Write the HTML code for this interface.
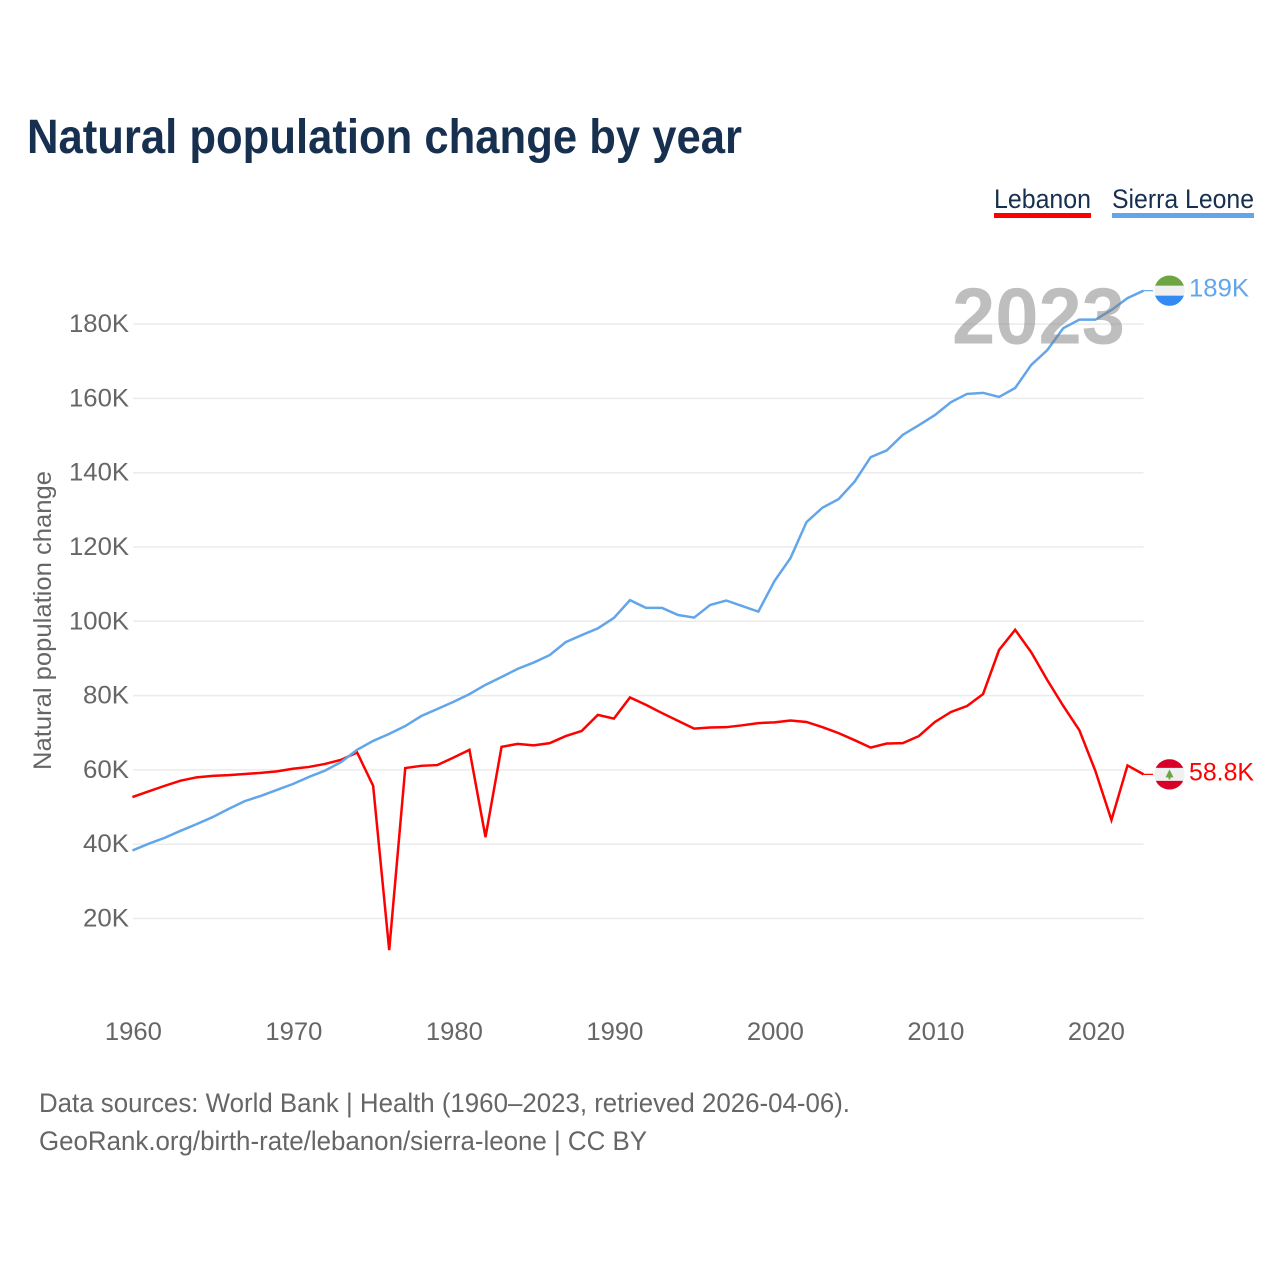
<!DOCTYPE html>
<html lang="en">
<head>
<meta charset="utf-8">
<title>Natural population change by year</title>
<style>
  html, body { margin: 0; padding: 0; background: #fff; }
  svg { display: block; font-family: "Liberation Sans", sans-serif; }
</style>
</head>
<body>
<svg id="chart" xmlns="http://www.w3.org/2000/svg" width="1280" height="1280" viewBox="0 0 1280 1280">
  <rect x="0" y="0" width="1280" height="1280" fill="#ffffff"/>
  <text x="27" y="153" font-size="48" font-weight="700" fill="#17304f" textLength="715" lengthAdjust="spacingAndGlyphs">Natural population change by year</text>

  <g>
    <text x="994" y="208" font-size="27" fill="#17304f" textLength="97" lengthAdjust="spacingAndGlyphs">Lebanon</text>
    <rect x="994" y="213" width="97" height="5" fill="#ff0000"/>
  </g>
  <g>
    <text x="1112" y="208" font-size="27" fill="#17304f" textLength="142" lengthAdjust="spacingAndGlyphs">Sierra Leone</text>
    <rect x="1112" y="213" width="142" height="5" fill="#62a6e9"/>
  </g>

  <text transform="translate(51,620.5) rotate(-90)" text-anchor="middle" font-size="25" fill="#666666" textLength="299" lengthAdjust="spacingAndGlyphs">Natural population change</text>

  <g id="grid"></g>
  <g id="y-ticks"></g>
  <g id="x-ticks"></g>
  <g id="series"></g>

  <text x="952" y="343.5" font-size="80" font-weight="700" fill="#7d7d7d" fill-opacity="0.5" textLength="173" lengthAdjust="spacingAndGlyphs">2023</text>

  <g id="end-markers"></g>

  <text x="39" y="1112" font-size="27" fill="#666666" textLength="811" lengthAdjust="spacingAndGlyphs">Data sources: World Bank | Health (1960–2023, retrieved 2026-04-06).</text>
  <text x="39" y="1150" font-size="27" fill="#666666" textLength="608" lengthAdjust="spacingAndGlyphs">GeoRank.org/birth-rate/lebanon/sierra-leone | CC BY</text>
</svg>

<script>
const firstYear = 1960;
const lebanonValues = [52.7,54.2,55.7,57.1,58.0,58.4,58.6,58.9,59.2,59.6,60.3,60.8,61.6,62.7,64.7,55.7,11.5,60.5,61.1,61.3,63.3,65.4,41.9,66.2,67.0,66.6,67.2,69.1,70.5,74.8,73.8,79.5,77.5,75.3,73.2,71.1,71.4,71.5,72.0,72.6,72.8,73.3,72.9,71.5,69.9,68.0,66.0,67.1,67.2,69.1,72.9,75.6,77.2,80.4,92.3,97.7,91.7,84.2,77.2,70.7,59.7,46.5,61.2,58.8];
const sierraLeoneValues = [38.3,40.1,41.7,43.6,45.4,47.3,49.5,51.6,53.0,54.6,56.2,58.1,59.8,62.1,65.4,67.8,69.7,71.8,74.5,76.4,78.3,80.4,82.9,85.0,87.2,88.9,90.9,94.4,96.3,98.1,100.9,105.7,103.6,103.6,101.7,101.0,104.4,105.6,104.1,102.6,110.8,117.0,126.7,130.6,132.9,137.6,144.2,146.0,150.2,152.8,155.5,159.0,161.2,161.5,160.4,162.8,169.0,173.0,178.9,181.2,181.2,183.8,187.0,189.0];
const yTickValues = [20,40,60,80,100,120,140,160,180];
const yTickLabels = ["20K","40K","60K","80K","100K","120K","140K","160K","180K"];
const xTickYears = [1960,1970,1980,1990,2000,2010,2020];
const lebanonEndLabel = "58.8K";
const sierraLeoneEndLabel = "189K";

const SVG_NS = "http://www.w3.org/2000/svg";
const xScale = function (year) { return 132.4 + (year - 1960) * 16.05; };
const yScale = function (value) { return 992.8 - value * 3.715; };
const xEnd = xScale(2023);

function make(tag, parent, attrs) {
  const el = document.createElementNS(SVG_NS, tag);
  for (const key in attrs) { el.setAttribute(key, attrs[key]); }
  parent.appendChild(el);
  return el;
}

const grid = document.getElementById("grid");
const yTicks = document.getElementById("y-ticks");
yTickValues.forEach(function (v, i) {
  const line = make("line", grid, { x1: 133, x2: xEnd, y1: yScale(v), y2: yScale(v), stroke: "#ebebeb", "stroke-width": 1.5 });
  
  
  const label = make("text", yTicks, { x: 129, y: yScale(v) + 8, "text-anchor": "end", "font-size": 25, fill: "#666666", textLength: 14 * yTickLabels[i].length + 4, lengthAdjust: "spacingAndGlyphs" });
  label.textContent = yTickLabels[i];
  
  
});

const xTicks = document.getElementById("x-ticks");
xTickYears.forEach(function (year) {
  const label = make("text", xTicks, { x: xScale(year) + 1, y: 1040, "text-anchor": "middle", "font-size": 25, fill: "#666666", textLength: 57, lengthAdjust: "spacingAndGlyphs" });
  label.textContent = String(year);
  
  
});

function linePoints(values) {
  return values.map(function (v, i) { return xScale(firstYear + i).toFixed(2) + "," + yScale(v).toFixed(2); }).join(" ");
}

const seriesGroup = document.getElementById("series");
const lebanonLine = make("polyline", seriesGroup, { points: linePoints(lebanonValues), fill: "none", stroke: "#ff0000", "stroke-width": 2.5, "stroke-linejoin": "miter" });


const sierraLine = make("polyline", seriesGroup, { points: linePoints(sierraLeoneValues), fill: "none", stroke: "#62a6e9", "stroke-width": 2.5, "stroke-linejoin": "miter" });



const markers = document.getElementById("end-markers");
const flagX = 1169.5;
const flagR = 15.2;
const defs = make("defs", markers, {});

function addFlag(id, cy, top, bottom, halfWhite) {
  const clip = make("clipPath", defs, { id: id });
  make("circle", clip, { cx: flagX, cy: cy, r: flagR });
  const g = make("g", markers, { "clip-path": "url(#" + id + ")" });
  make("rect", g, { x: flagX - flagR, y: cy - flagR, width: 2 * flagR, height: 2 * flagR, fill: "#f0f0f0" });
  make("rect", g, { x: flagX - flagR, y: cy - flagR, width: 2 * flagR, height: flagR - halfWhite, fill: top });
  make("rect", g, { x: flagX - flagR, y: cy + halfWhite, width: 2 * flagR, height: flagR - halfWhite, fill: bottom });
  return g;
}

const yLeb = yScale(lebanonValues[lebanonValues.length - 1]);
const ySl = yScale(sierraLeoneValues[sierraLeoneValues.length - 1]);

const slConnector = make("line", markers, { x1: xEnd, x2: 1153, y1: ySl, y2: ySl, stroke: "#62a6e9", "stroke-width": 1.2 });


const lebConnector = make("line", markers, { x1: xEnd, x2: 1153, y1: yLeb, y2: yLeb, stroke: "#ff0000", "stroke-width": 1.2 });



const slFlag = addFlag("clip-sl", ySl, "#6da544", "#338af3", 5);


const lebFlag = addFlag("clip-lb", yLeb, "#d80027", "#d80027", 6.5);


const cedar = make("polygon", lebFlag, { points: [flagX, yLeb - 5, flagX + 4, yLeb + 3, flagX + 1, yLeb + 3, flagX + 1, yLeb + 5, flagX - 1, yLeb + 5, flagX - 1, yLeb + 3, flagX - 4, yLeb + 3].join(" "), fill: "#6da544" });



const slLabel = make("text", markers, { x: 1189, y: ySl + 6, "font-size": 25, fill: "#62a6e9", textLength: 60, lengthAdjust: "spacingAndGlyphs" });
slLabel.textContent = sierraLeoneEndLabel;


const lebLabel = make("text", markers, { x: 1189, y: yLeb + 6, "font-size": 25, fill: "#ff0000", textLength: 65, lengthAdjust: "spacingAndGlyphs" });
lebLabel.textContent = lebanonEndLabel;


</script>
</body>
</html>
